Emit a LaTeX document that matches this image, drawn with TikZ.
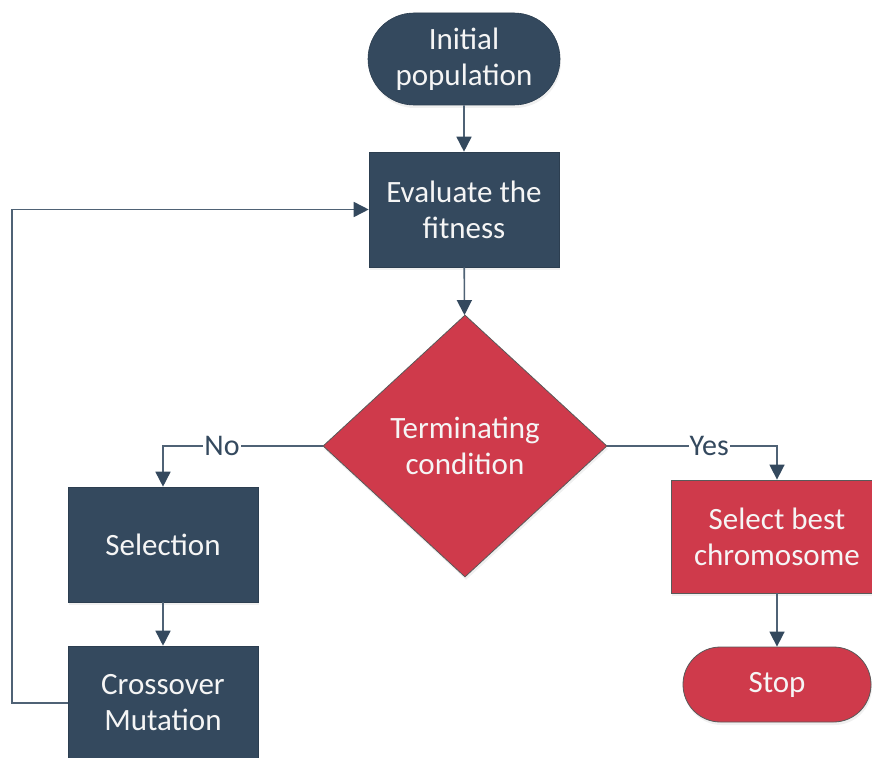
\documentclass[tikz,border=0pt]{standalone}
\usepackage{fontspec}
\setmainfont{Carlito}
\usetikzlibrary{shapes.geometric,shapes.misc,arrows.meta,shadows}
\definecolor{navy}{HTML}{34495E}
\definecolor{crimson}{HTML}{CF3A4B}
\definecolor{wire}{HTML}{4F6275}
\definecolor{txt}{HTML}{F5F5F5}

\begin{document}
\begin{tikzpicture}[x=1pt,y=-1pt,
  base/.style={font=\fontsize{31}{36}\selectfont, text=txt, align=center,
    inner sep=0pt, drop shadow={opacity=0.12,shadow xshift=1pt,shadow yshift=-3pt}},
  darkbox/.style={base, rectangle, fill=navy, draw=navy!85!black, line width=0.6pt},
  redbox/.style={base, rectangle, fill=crimson, draw=black!65, line width=0.8pt},
  darkend/.style={base, rounded rectangle, fill=navy, draw=navy!85!black, line width=0.6pt},
  redend/.style={base, rounded rectangle, fill=crimson, draw=black!65, line width=0.8pt},
  decision/.style={base, diamond, fill=crimson, draw=black!65, line width=0.8pt},
  flow/.style={draw=wire, line width=1.6pt,
    -{Triangle[length=15pt,width=15pt,color=navy]}},
  lbl/.style={fill=white, text=navy, font=\fontsize{30}{30}\selectfont, inner sep=1pt}
]
\useasboundingbox (0,0) rectangle (872,757);

% process steps
\node[darkend, minimum width=192pt, minimum height=92pt] (init) at (464,59) {Initial\\population};
\node[darkbox, minimum width=190pt, minimum height=115pt] (eval) at (464,209.5) {Evaluate the\\fitness};
\node[decision, minimum width=284pt, minimum height=262pt] (term) at (465,446) {Terminating\\condition};
\node[darkbox, minimum width=190pt, minimum height=115pt] (sel) at (163,544.5) {Selection};
\node[darkbox, minimum width=190pt, minimum height=114pt] (cross) at (163,703) {Crossover\\Mutation};
\node[redbox, minimum width=212pt, minimum height=113pt] (best) at (777,536.5) {Select best\\chromosome};
\node[redend, minimum width=188pt, minimum height=75pt] (stop) at (777,684.5) {Stop};

% return path of the loop
\coordinate (loopx) at (12,0);

% connectors
\draw[flow] (init) -- (eval);
\draw[flow] (eval) -- (term);
\draw[flow] (term.west) -- node[lbl, pos=0.63] {No} (term.west -| sel.north) -- (sel.north);
\draw[flow] (term.east) -- node[lbl, pos=0.6] {Yes} (term.east -| best.north) -- (best.north);
\draw[flow] (sel) -- (cross);
\draw[flow] (best) -- (stop);
\draw[flow] (cross.west) -- (cross.west -| loopx) |- (eval.west);
\end{tikzpicture}
\end{document}
